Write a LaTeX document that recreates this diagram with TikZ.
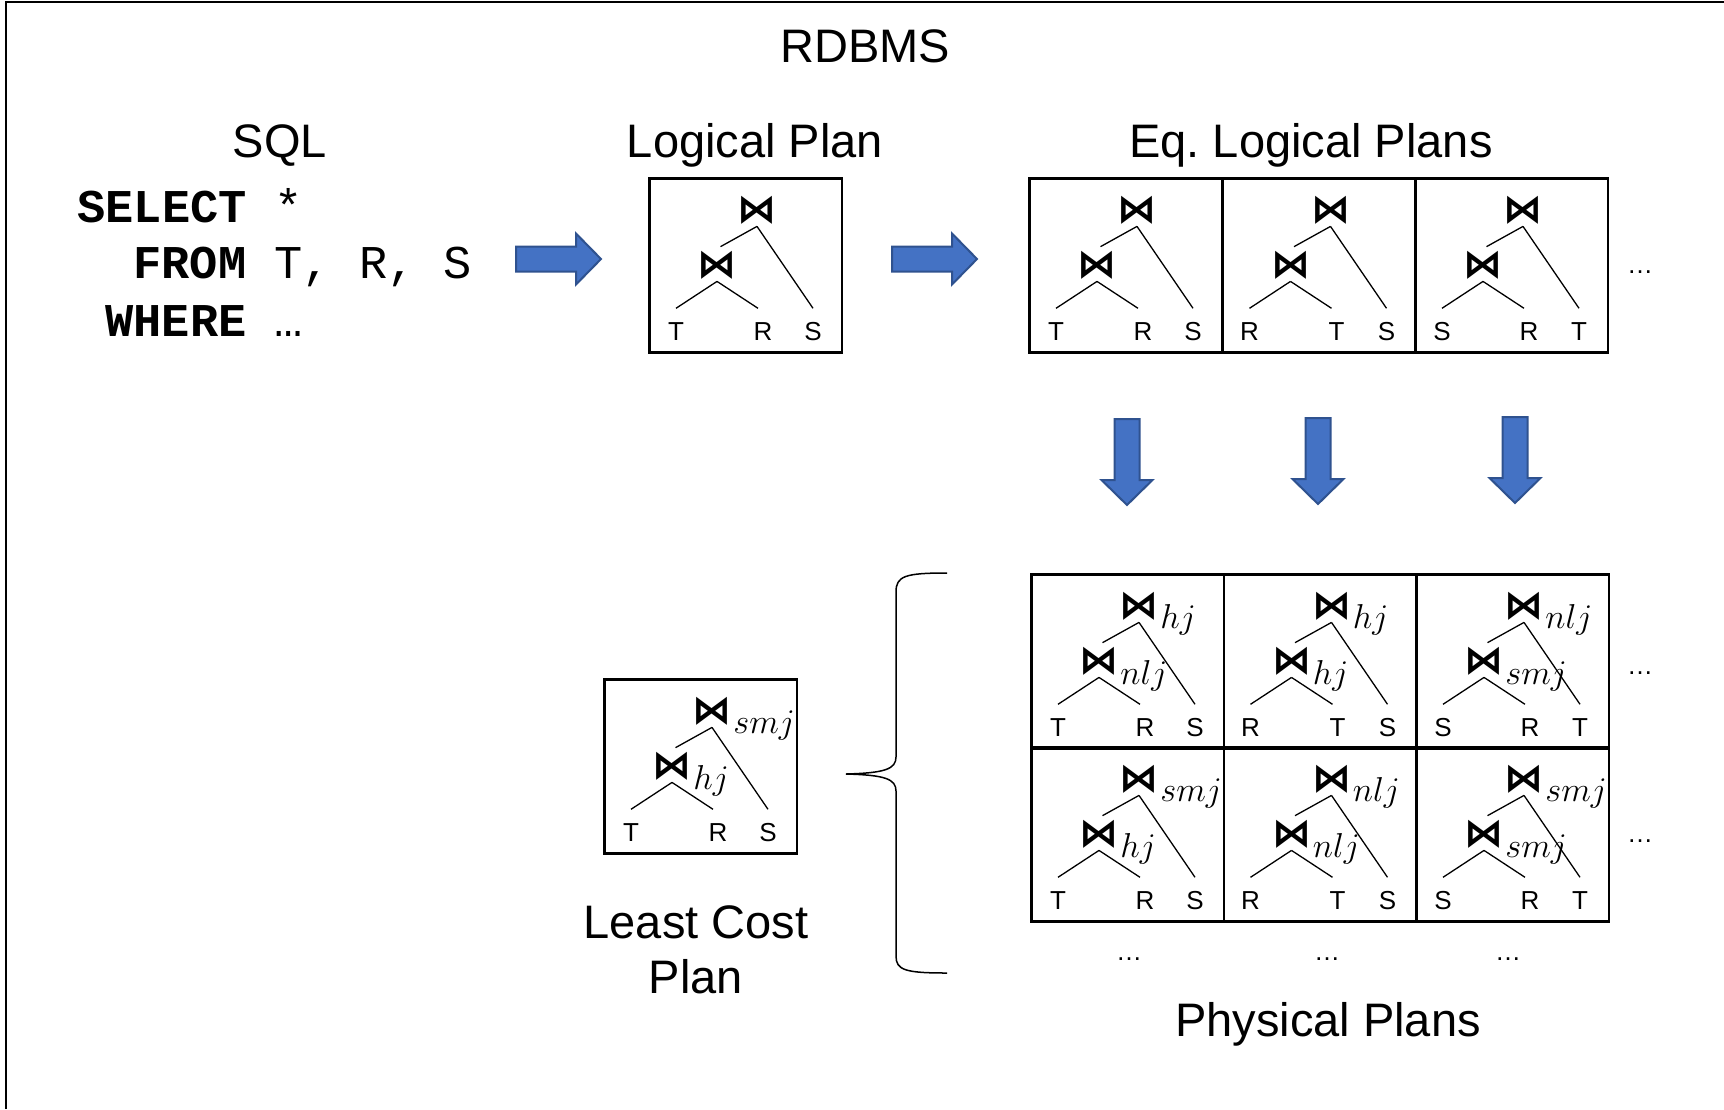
\documentclass[tikz,border=0pt]{standalone}
\usepackage{fontspec}
\setmainfont{Liberation Sans}
\setmonofont{Liberation Mono}
\newfontfamily\djv{DejaVu Sans}
\usetikzlibrary{calc}
\definecolor{arrfill}{HTML}{4472C4}
\definecolor{arrline}{HTML}{2F528F}
\tikzset{
 title/.style={font=\fontsize{23.5}{28}\selectfont, anchor=base, inner sep=0},
 sqlline/.style={font=\fontsize{23.5}{28}\selectfont\ttfamily, anchor=base west, inner sep=0},
 planbox/.style={draw, line width=1.35pt, anchor=north west, minimum width=96.25pt, minimum height=87pt, inner sep=0},
 jn/.style={font=\fontsize{19.5}{19.5}\djv\bfseries, inner sep=0, minimum height=16pt},
 sub/.style={font=\fontsize{18.5}{18.5}\selectfont, anchor=base west, inner sep=0},
 lab/.style={font=\fontsize{13}{13}\selectfont, text height=9.3pt, text depth=0pt, inner xsep=0, inner ysep=6.5pt},
 edge/.style={line width=0.65pt},
 bigarrow/.style={fill=arrfill, draw=arrline, line width=1pt, line join=miter},
 dots/.style={font=\fontsize{13}{13}\selectfont, inner sep=0},
 frame/.style={line width=1.25pt},
}
\newcommand\plantree[8]{%
 \node[planbox] (#1) at (#2,#3) {};
 \node[jn] (#1t) at ({#2+109},{#3+33}) {⋈};
 \node[jn] (#1m) at ({#2+69},{#3+88}) {⋈};
 \node[lab] (#1a) at ({#2+28},{#3+154}) {#4};
 \node[lab] (#1b) at ({#2+115},{#3+154}) {#5};
 \node[lab] (#1c) at ({#2+165},{#3+154}) {#6};
 \draw[edge, shorten >=2pt] (#1t.south) -- (#1m.north);
 \draw[edge] (#1t.south) -- (#1c.north);
 \draw[edge] (#1m.south) -- (#1a.north);
 \draw[edge] (#1m.south) -- ([xshift=-2.5pt]#1b.north);
 \if\relax\detokenize{#7}\relax\else
 \node[sub] (#1ts) at ({#2+130},{#3+55}) {$#7$};
 \node[sub] (#1ms) at ({#2+90},{#3+111}) {$#8$};
 \fi
}
\begin{document}
\begin{tikzpicture}[x=0.5pt,y=-0.5pt]
\useasboundingbox (0,0) rectangle (1724,1109);
% frame
\coordinate (fa) at (6,1109);
\coordinate (fb) at (6,2);
\coordinate (fc) at (1724,2);
\draw[frame] (fa) -- (fb) -- (fc);
% titles
\node[title] (rdbms) at (865,62) {RDBMS};
\node[title] (sqlt) at (280,157) {SQL};
\node[title] (lpt) at (755,157) {Logical Plan};
\node[title] (eqt) at (1311,157) {Eq.\ Logical Plans};
\node[title] (lc1) at (696,938) {Least Cost};
\node[title] (lc2) at (696,993) {Plan};
\node[title] (ppt) at (1328,1036) {Physical Plans};
% SQL
\node[sqlline] (q1) at (77,222) {\textbf{SELECT} *};
\node[sqlline] (q2) at (133,278) {\textbf{FROM} T, R, S};
\node[sqlline] (q3) at (105,336) {\textbf{WHERE} …};
% plans
\plantree{lp}{648}{177}{T}{R}{S}{}{}
\plantree{ea}{1028}{177}{T}{R}{S}{}{}
\plantree{eb}{1221.5}{177}{R}{T}{S}{}{}
\plantree{ec}{1414}{177}{S}{R}{T}{}{}
\plantree{pa}{1030}{573}{T}{R}{S}{hj}{nlj}
\plantree{pb}{1222.5}{573}{R}{T}{S}{hj}{hj}
\plantree{pc}{1415}{573}{S}{R}{T}{nlj}{smj}
\plantree{pd}{1030}{746}{T}{R}{S}{smj}{hj}
\plantree{pe}{1222.5}{746}{R}{T}{S}{nlj}{nlj}
\plantree{pf}{1415}{746}{S}{R}{T}{smj}{smj}
\plantree{lc}{603}{678}{T}{R}{S}{smj}{hj}
% dots
\node[dots] (d1) at (1640,272.5) {…};
\node[dots] (d2) at (1640,673.5) {…};
\node[dots] (d3) at (1640,841) {…};
\node[dots] (d4) at (1129,959.5) {…};
\node[dots] (d5) at (1327,959.5) {…};
\node[dots] (d6) at (1508,959.5) {…};
% right arrows
\coordinate (ra) at (516,259);
\coordinate (rb) at (892,259);
\foreach \c in {ra,rb}{
 \draw[bigarrow] (\c) ++(0,-12.5) -- ++(60,0) -- ++(0,-13) -- ++(25,25.5) -- ++(-25,25.5) -- ++(0,-13) -- ++(-60,0) -- cycle;
}
% down arrows
\coordinate (da) at (1127,419);
\coordinate (db) at (1318,418);
\coordinate (dc) at (1515,417);
\foreach \c in {da,db,dc}{
 \draw[bigarrow] (\c) ++(-12.5,0) -- ++(25,0) -- ++(0,61) -- ++(13,0) -- ++(-25.5,25) -- ++(-25.5,-25) -- ++(13,0) -- cycle;
}
% brace
\coordinate (ba) at (947,573);
\coordinate (bt) at (846,774);
\coordinate (bb) at (947,973);
\draw[line width=0.75pt] (ba) .. controls (905,573) and (896,576) .. (896,592) -- (896,757) .. controls (896,769) and (885,773) .. (bt) .. controls (885,775) and (896,779) .. (896,791) -- (896,956) .. controls (896,970) and (905,973) .. (bb);
\end{tikzpicture}
\end{document}
